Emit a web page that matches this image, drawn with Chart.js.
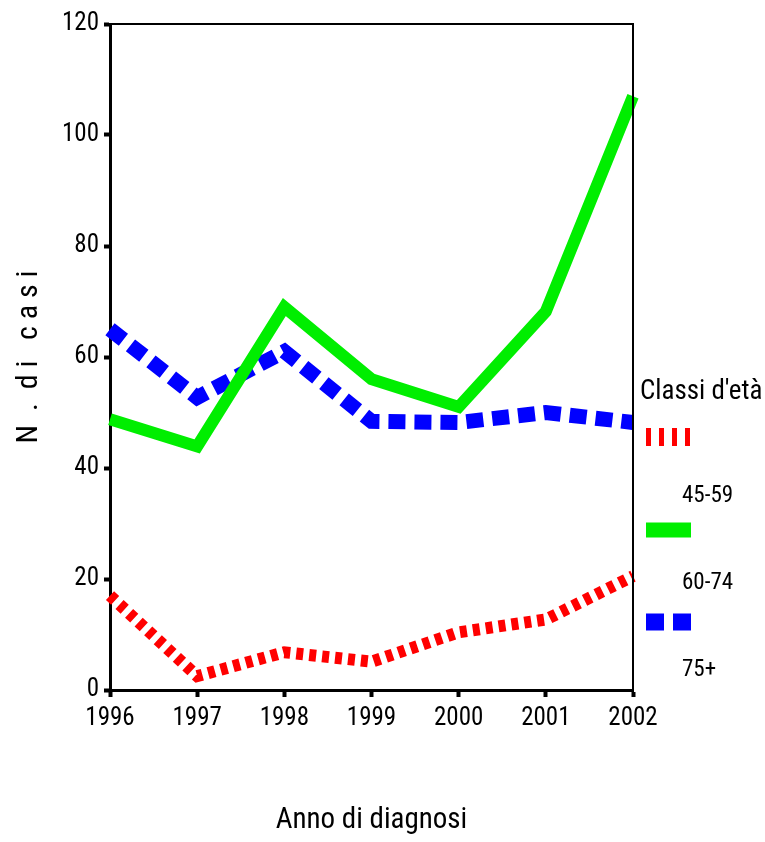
<!DOCTYPE html>
<html>
<head>
<meta charset="utf-8">
<script src="https://cdn.jsdelivr.net/npm/chart.js@4.4.1/dist/chart.umd.min.js"></script>
<style>
  html, body { margin: 0; padding: 0; background: #fff; }
  #wrap { width: 765px; height: 842px; position: relative; }
</style>
</head>
<body>
<div id="wrap"><canvas id="my-chart"></canvas></div>
<script>
const years = ['1996', '1997', '1998', '1999', '2000', '2001', '2002'];
const classi4559 = [17, 2.5, 6.8, 5.1, 10.4, 12.7, 20.5];
const classi6074 = [48.8, 43.9, 69, 56, 51, 68.2, 107];
const classi75 = [65, 52.7, 61, 48.4, 48.2, 50, 48.2];
const yTicks = [0, 20, 40, 60, 80, 100, 120];

const FONT = "'Liberation Sans Narrow', 'Arial Narrow', 'Roboto Condensed', 'Liberation Sans', sans-serif";

// box round the plot + legend on the right
const frameAndLegend = {
    id: 'frameAndLegend',
    afterDraw: chart => {
        const ctx = chart.ctx;
        const a = chart.chartArea;
        ctx.save();
        ctx.strokeStyle = '#000';
        ctx.lineWidth = 2;
        ctx.beginPath();
        ctx.moveTo(a.left, a.top);
        ctx.lineTo(a.right, a.top);
        ctx.lineTo(a.right, a.bottom);
        ctx.stroke();

        const lx = a.right + 13;
        ctx.fillStyle = '#000';
        ctx.textBaseline = 'middle';
        ctx.font = '27px ' + FONT;
        ctx.fillText("Classi d'età", a.right + 7, 392);

        const items = [
            {label: '45-59', color: '#ff0000', dash: [5, 8], width: 18, y: 437, ty: 496},
            {label: '60-74', color: '#00ee00', dash: [], width: 15, y: 530, ty: 583},
            {label: '75+', color: '#0000ff', dash: [18, 9], width: 17, y: 622, ty: 670}
        ];
        items.forEach(it => {
            ctx.beginPath();
            ctx.setLineDash(it.dash);
            ctx.lineWidth = it.width;
            ctx.strokeStyle = it.color;
            ctx.moveTo(lx, it.y);
            ctx.lineTo(lx + 45, it.y);
            ctx.stroke();
            ctx.setLineDash([]);
            ctx.font = '23px ' + FONT;
            ctx.fillStyle = '#000';
            ctx.fillText(it.label, a.right + 49, it.ty);
        });
        ctx.restore();
    }
};

const myChart = new Chart(document.getElementById('my-chart').getContext('2d'), {
    type: 'line',
    data: {
        labels: years,
        datasets: [{
            label: '45-59',
            data: classi4559,
            borderColor: '#ff0000',
            borderWidth: 12,
            borderDash: [7, 6],
            pointRadius: 0,
            tension: 0,
            fill: false
        }, {
            label: '60-74',
            data: classi6074,
            borderColor: '#00ee00',
            borderWidth: 12,
            pointRadius: 0,
            tension: 0,
            fill: false
        }, {
            label: '75+',
            data: classi75,
            borderColor: '#0000ff',
            borderWidth: 15,
            borderDash: [17, 9],
            pointRadius: 0,
            tension: 0,
            fill: false
        }]
    },
    options: {
        responsive: true,
        maintainAspectRatio: false,
        animation: false,
        devicePixelRatio: 1,
        layout: {
            padding: {left: 0, right: 132, top: 24, bottom: 0}
        },
        plugins: {
            legend: {display: false},
            tooltip: {enabled: false}
        },
        scales: {
            x: {
                offset: false,
                afterFit: scale => { scale.height = 152; },
                grid: {
                    drawOnChartArea: false,
                    tickLength: 7,
                    tickWidth: 4,
                    tickColor: '#000'
                },
                border: {color: '#000', width: 3},
                ticks: {
                    color: '#000',
                    padding: 7,
                    maxRotation: 0,
                    font: {family: FONT, size: 25}
                },
                title: {
                    display: true,
                    text: 'Anno di diagnosi',
                    color: '#000',
                    padding: {top: 0, bottom: 4},
                    font: {family: FONT, size: 29}
                }
            },
            y: {
                min: 0,
                max: 120,
                afterFit: scale => { scale.width = 110; },
                afterBuildTicks: scale => { scale.ticks = yTicks.map(v => ({value: v})); },
                grid: {
                    drawOnChartArea: false,
                    tickLength: 6,
                    tickWidth: 4,
                    tickColor: '#000'
                },
                border: {color: '#000', width: 3},
                ticks: {
                    color: '#000',
                    padding: 5,
                    font: {family: FONT, size: 25}
                },
                title: {
                    display: true,
                    text: 'N  .  d i   c a s i',
                    color: '#000',
                    padding: {top: 11, bottom: 0},
                    font: {family: FONT, size: 30}
                }
            }
        }
    },
    plugins: [frameAndLegend]
});
</script>
</body>
</html>
